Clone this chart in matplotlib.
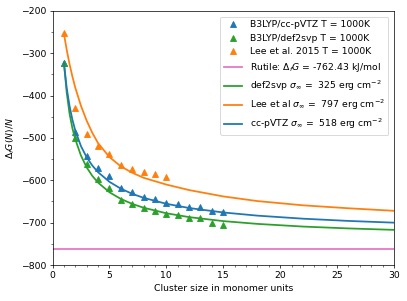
import matplotlib
matplotlib.use("Agg")
import matplotlib.pyplot as plt
from matplotlib.ticker import MultipleLocator

plt.rcParams["font.size"] = 10.4

# cluster sizes and computed points
n_ccpvtz = [1, 2, 3, 4, 5, 6, 7, 8, 9, 10, 11, 12, 13, 14, 15]
g_ccpvtz = [-322, -485, -542, -572, -590, -619, -628, -639, -644, -653, -657, -664, -664, -672, -674]

n_def2svp = [1, 2, 3, 4, 5, 6, 7, 8, 9, 10, 11, 12, 13, 14, 15]
g_def2svp = [-322, -500, -562, -596, -617, -646, -655, -666, -672, -680, -683, -690, -690, -701, -706]

n_lee = [1, 2, 3, 4, 5, 6, 7, 8, 9, 10]
g_lee = [-253, -430, -490, -520, -538, -563, -573, -580, -585, -593]

bulk = -762.43

# fitted curves
n_fit = [1, 1.25, 1.5, 1.75, 2, 2.5, 3, 3.5, 4, 5, 6, 7, 8, 10, 12, 15, 18, 22, 26, 30]
fit_def2svp = [-322.0, -393.0, -443.0, -477.0, -503.0, -541.6, -569.3, -589.6, -605.3, -628.1,
               -643.9, -655.6, -664.7, -677.8, -686.9, -696.3, -702.9, -709.2, -713.6, -717.0]
fit_lee = [-253.0, -292.0, -326.0, -355.0, -381.0, -424.0, -459.0, -488.0, -512.0, -545.0,
           -567.0, -582.0, -594.0, -610.0, -623.0, -638.0, -649.0, -659.0, -666.0, -672.0]
fit_ccpvtz = [-322.0, -382.2, -424.9, -457.0, -482.1, -519.2, -545.5, -565.2, -580.7, -603.5,
              -619.7, -631.8, -641.3, -655.4, -665.4, -675.9, -683.4, -690.6, -695.9, -700.0]

blue = "#1f77b4"
green = "#2ca02c"
orange = "#ff7f0e"
pink = "#e377c2"

dpi = 64
fig = plt.figure(figsize=(407 / dpi, 301 / dpi), dpi=dpi)
ax = fig.add_axes([0.129, 0.1196, 0.839, 0.8439])

ms = 7.5
lw = 2.0
h1, = ax.plot(n_ccpvtz, g_ccpvtz, "^", color=blue, ms=ms, label="B3LYP/cc-pVTZ T = 1000K")
h2, = ax.plot(n_def2svp, g_def2svp, "^", color=green, ms=ms, label="B3LYP/def2svp T = 1000K")
h3, = ax.plot(n_lee, g_lee, "^", color=orange, ms=ms, label="Lee et al. 2015 T = 1000K")
h4 = ax.axhline(bulk, color=pink, lw=lw, label=r"Rutile: $\Delta_f G$ = -762.43 kJ/mol")
h5, = ax.plot(n_fit, fit_def2svp, "-", color=green, lw=lw, label=r"def2svp $\sigma_{\infty}$ =  325 erg cm$^{-2}$")
h6, = ax.plot(n_fit, fit_lee, "-", color=orange, lw=lw, label=r"Lee et al $\sigma_{\infty}$ =  797 erg cm$^{-2}$")
h7, = ax.plot(n_fit, fit_ccpvtz, "-", color=blue, lw=lw, label=r"cc-pVTZ $\sigma_{\infty}$ =  518 erg cm$^{-2}$")

ax.set_xlim(0, 30)
ax.set_ylim(-800, -200)
ax.xaxis.set_minor_locator(MultipleLocator(1))
ax.yaxis.set_minor_locator(MultipleLocator(50))
ax.set_xlabel("Cluster size in monomer units")
ax.set_ylabel(r"$\Delta_f G(N)/N$")
ax.legend(handles=[h1, h2, h3, h4, h5, h6, h7], loc="upper right", borderaxespad=0.6)

fig.savefig("out.png", dpi=dpi)
